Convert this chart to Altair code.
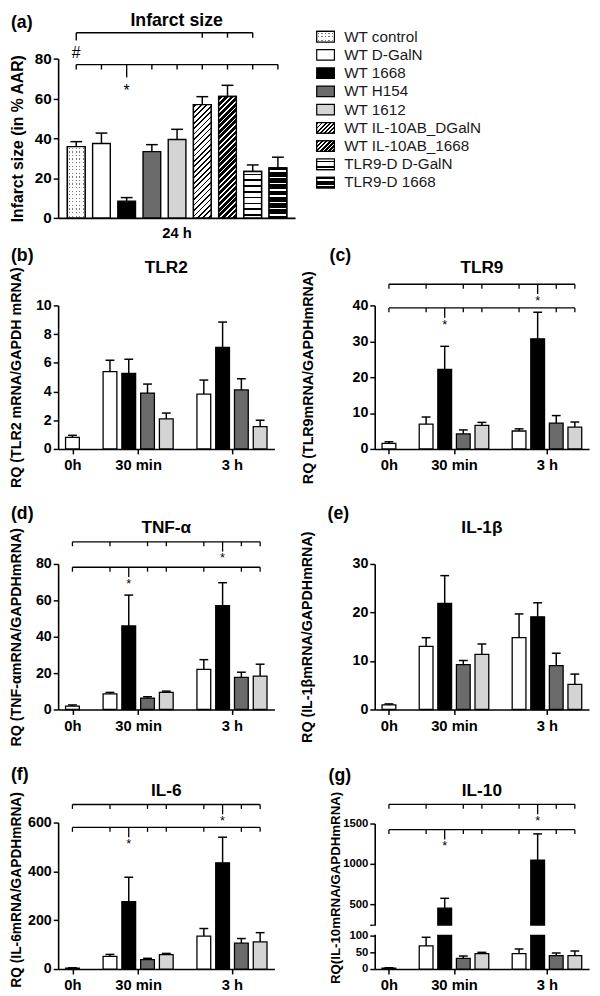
import math
import altair as alt
import pandas as pd

FONT = "Liberation Sans"

# ====================== DATA ======================
# (a) Infarct size at 24 h (mean and top of SEM bar, % AAR)
a_groups = ["WT control", "WT D-GalN", "WT 1668", "WT H154", "WT 1612",
            "WT IL-10AB_DGalN", "WT IL-10AB_1668", "TLR9-D D-GalN", "TLR9-D 1668"]
a_values = [35.8, 37.4, 8.4, 33.3, 39.4, 56.9, 61.0, 23.3, 25.1]
a_err_top = [38.3, 42.6, 10.2, 36.8, 44.5, 60.9, 66.6, 26.6, 30.5]
a_brackets = [
    {"level": 77, "members": a_groups, "mark": "WT 1668", "symbol": "*"},
    {"level": 93, "members": ["WT control", "WT IL-10AB_DGalN", "WT IL-10AB_1668", "TLR9-D D-GalN"],
     "mark": "WT control", "symbol": "#"},
]

# (b)-(g) relative mRNA expression; bars in drawing order
times = ["0h", "30 min", "3 h"]
treatments = ["D-GalN", "1668", "H154", "1612"]
bar_time = ["0h", "30 min", "30 min", "30 min", "30 min", "3 h", "3 h", "3 h", "3 h"]
bar_treat = ["D-GalN", "D-GalN", "1668", "H154", "1612", "D-GalN", "1668", "H154", "1612"]

tlr2_mean = [0.80, 5.39, 5.27, 3.89, 2.09, 3.82, 7.07, 4.11, 1.55]
tlr2_err = [0.95, 6.18, 6.25, 4.52, 2.50, 4.80, 8.84, 4.89, 2.00]
tlr9_mean = [1.55, 6.9, 22.2, 4.2, 6.6, 5.0, 30.7, 7.2, 6.1]
tlr9_err = [2.0, 8.9, 28.6, 5.3, 7.4, 5.6, 38.1, 9.3, 7.5]
tnf_mean = [1.8, 8.6, 45.9, 6.3, 9.4, 22.0, 57.1, 17.7, 18.4]
tnf_err = [2.5, 9.4, 62.9, 7.0, 10.1, 27.4, 69.7, 20.5, 24.9]
il1b_mean = [0.95, 13.0, 21.9, 9.26, 11.35, 14.8, 19.1, 9.05, 5.2]
il1b_err = [1.15, 14.8, 27.6, 10.1, 13.5, 19.7, 22.0, 11.6, 7.3]
il6_mean = [4, 52, 276, 39, 59, 135, 435, 106, 111]
il6_err = [5, 60, 376, 44, 64, 166, 540, 125, 149]
il10_mean = [3, 69, 455, 32, 46, 46, 1049, 40, 40]
il10_err = [4, 95, 577, 39, 50, 60, 1372, 48, 54]

tlr2_ticks = [0, 2, 4, 6, 8, 10]
tlr9_ticks = [0, 10, 20, 30, 40]
tnf_ticks = [0, 20, 40, 60, 80]
il1b_ticks = [0, 10, 20, 30]
il6_ticks = [0, 200, 400, 600]
il10_ticks = [0, 50, 100, 250, 500, 1000, 1500]
il10_break = [100, 250]

# significance brackets: (level, time point of the highlighted 1668 bar)
tlr9_brackets = [(45.9, "3 h"), (39.3, "30 min")]
tnf_brackets = [(92.2, "3 h"), (78.2, "30 min")]
il6_brackets = [(674, "3 h"), (580, "30 min")]
il10_brackets = [(1737, "3 h"), (1424, "30 min")]

# ====================== STYLE ======================
TREAT_COLORS = ["#ffffff", "#000000", "#6b6b6b", "#d4d4d4"]
A_BASE = ["#ffffff", "#ffffff", "#000000", "#6b6b6b", "#d4d4d4",
          "#ffffff", "#000000", "#ffffff", "#000000"]
GROUP_START = {"0h": 0, "30 min": 2, "3 h": 7}
LEFT_W, RIGHT_W = 220, 218
A_W, A_H = 241, 162
YTITLE_FS = 14.5
PANEL_TITLE_FS = 17.5


def stops_centered(n, frac, line, bg):
    out = []
    for i in range(n):
        a = i / n
        b = (i + (1 - frac) / 2) / n
        c = (i + (1 + frac) / 2) / n
        d = (i + 1) / n
        for off, col in ((a, bg), (b, bg), (b, line), (c, line), (c, bg), (d, bg)):
            out.append({"offset": round(off, 5), "color": col})
    return out


def grad_h(h, period, frac, line, bg):
    n = max(1, round(h / period))
    return {"gradient": "linear", "x1": 0, "y1": 0, "x2": 0, "y2": 1,
            "stops": stops_centered(n, frac, line, bg)}


def grad_v(w, period, frac, line, bg):
    n = max(1, round(w / period))
    return {"gradient": "linear", "x1": 0, "y1": 0, "x2": 1, "y2": 0,
            "stops": stops_centered(n, frac, line, bg)}


def grad_d(w, h, period, frac, line, bg):
    k = (w + h) / (w * w + h * h)
    n = max(1, round((w + h) / math.sqrt(2) / period))
    return {"gradient": "linear", "x1": 0, "y1": 0, "x2": round(k * w, 5), "y2": round(k * h, 5),
            "stops": stops_centered(n, frac, line, bg)}


def pattern_fills(group, w, h, legend=False):
    dot = 3.3 if legend else 3.6
    diag = 3.0 if legend else 4.0
    hl = 5.0 if legend else 6.0
    if group == "WT control":
        return [(grad_h(h, dot, 0.35, "#7a7a7a", "#ffffff"), False),
                (grad_v(w, dot, 0.35, "rgba(255,255,255,0)", "#ffffff"), True)]
    if group == "WT IL-10AB_DGalN":
        return [(grad_d(w, h, diag, 0.32, "#000000", "#ffffff"), True)]
    if group == "WT IL-10AB_1668":
        return [(grad_d(w, h, diag, 0.68, "#000000", "#ffffff"), True)]
    if group == "TLR9-D D-GalN":
        return [(grad_h(h, hl, 0.25, "#000000", "#ffffff"), True)]
    if group == "TLR9-D 1668":
        return [(grad_h(h, hl, 0.25, "#ffffff", "#000000"), True)]
    return []


def text_layer(txt, x, y, size, weight="bold", align="center"):
    return alt.Chart(pd.DataFrame({"t": [txt]})).mark_text(
        font=FONT, fontSize=size, fontWeight=weight, align=align, baseline="middle", color="black"
    ).encode(text="t:N", x=alt.value(x), y=alt.value(y))


# ====================== PANEL (a) ======================
def panel_a():
    df = pd.DataFrame({"group": a_groups, "idx": list(range(len(a_groups))),
                       "mean": a_values, "err": a_err_top, "base": 0.0})
    xs = alt.Scale(domain=[-0.523, 8.486], nice=False, zero=False)
    ys = alt.Scale(domain=[0, 80], nice=False, zero=False)
    xaxis = alt.Axis(title="24 h", labels=False, ticks=False, titleFontSize=15, titlePadding=8)
    yaxis = alt.Axis(values=[0, 20, 40, 60, 80], title="Infarct size (in % AAR)", titleFontSize=16,
                     titleX=-33, labelFontSize=15.5, labelOverlap=False, format="d")
    X = lambda f: alt.X(f, type="quantitative", scale=xs, axis=xaxis)
    Y = lambda f: alt.Y(f, type="quantitative", scale=ys, axis=yaxis)
    layers = [alt.Chart(df).mark_bar(width=18, stroke="black", strokeWidth=1.4).encode(
        x=X("idx"), y=Y("mean"), y2="base",
        fill=alt.Fill("group:N", scale=alt.Scale(domain=a_groups, range=A_BASE), legend=None))]
    for g, v in zip(a_groups, a_values):
        for fill, stroked in pattern_fills(g, 18, v / 80 * A_H):
            kw = {"width": 18, "fill": fill}
            if stroked:
                kw.update(stroke="black", strokeWidth=1.4)
            layers.append(alt.Chart(df).transform_filter(alt.datum.group == g).mark_bar(**kw).encode(
                x=X("idx"), y=Y("mean"), y2="base"))
    layers.append(alt.Chart(df).mark_rule(color="black", strokeWidth=1.5).encode(x=X("idx"), y=Y("mean"), y2="err"))
    layers.append(alt.Chart(df).mark_tick(orient="horizontal", size=12, thickness=1.5, color="black", opacity=1)
                  .encode(x=X("idx"), y=Y("err")))
    long_len = {"*": 13, "#": 8}
    sym_dy = {"*": 27, "#": 21}
    for br in a_brackets:
        idxs = [a_groups.index(m) for m in br["members"]]
        hi = a_groups.index(br["mark"])
        lvl = br["level"]
        layers.append(alt.Chart(pd.DataFrame({"x0": [min(idxs)], "x1": [max(idxs)], "level": [lvl]}))
                      .mark_rule(color="black", strokeWidth=1.4).encode(x=X("x0"), x2="x1", y=Y("level")))
        short = [i for i in idxs if i != hi]
        layers.append(alt.Chart(pd.DataFrame({"idx": short, "level": [lvl] * len(short)}))
                      .mark_tick(orient="vertical", size=5, thickness=1.4, yOffset=2.5, color="black", opacity=1)
                      .encode(x=X("idx"), y=Y("level")))
        L = long_len[br["symbol"]]
        layers.append(alt.Chart(pd.DataFrame({"idx": [hi], "level": [lvl]}))
                      .mark_tick(orient="vertical", size=L, thickness=1.4, yOffset=L / 2, color="black", opacity=1)
                      .encode(x=X("idx"), y=Y("level")))
        layers.append(alt.Chart(pd.DataFrame({"idx": [hi], "level": [lvl], "s": [br["symbol"]]}))
                      .mark_text(font=FONT, fontSize=16, baseline="middle", dy=sym_dy[br["symbol"]], color="black")
                      .encode(x=X("idx"), y=Y("level"), text="s:N"))
    layers.append(text_layer("(a)", -48, -36, 18, align="left"))
    layers.append(text_layer("Infarct size", A_W / 2, -38, 18))
    return alt.layer(*layers).properties(width=A_W, height=A_H)


# ====================== LEGEND ======================
def legend_panel():
    df = pd.DataFrame({"label": a_groups})
    sc = alt.Scale(domain=a_groups, range=[-31.6, 135.3], paddingInner=0.42, paddingOuter=0.21)
    LY = alt.Y("label:N", scale=sc, axis=None)
    layers = [alt.Chart(df).mark_rect(stroke="black", strokeWidth=1.2).encode(
        y=LY, x=alt.value(-59), x2=alt.value(-41),
        fill=alt.Fill("label:N", scale=alt.Scale(domain=a_groups, range=A_BASE), legend=None))]
    for g in a_groups:
        for fill, stroked in pattern_fills(g, 18, 10.75, legend=True):
            kw = {"fill": fill}
            if stroked:
                kw.update(stroke="black", strokeWidth=1.2)
            layers.append(alt.Chart(df).transform_filter(alt.datum.label == g).mark_rect(**kw).encode(
                y=LY, x=alt.value(-59), x2=alt.value(-41)))
    layers.append(alt.Chart(df).mark_text(font=FONT, fontSize=15.5, align="left", baseline="middle", color="#1a1a1a")
                  .encode(y=LY, x=alt.value(-31), text="label:N"))
    return alt.layer(*layers).properties(width=RIGHT_W, height=A_H)


# ====================== mRNA PANELS ======================
def mrna_panel(letter, name, ytitle, mean, err, ydomain, yticks, brackets, width, plot_h, extra,
               letter_xy, title_y, ytitle_x, ylabel_size=14.5, yrange=None, ybreak=None,
               ytitle_size=YTITLE_FS, ytitle_y=None):
    slots = [GROUP_START[t] + treatments.index(s) for t, s in zip(bar_time, bar_treat)]
    df = pd.DataFrame({"slot": slots, "time": bar_time, "treat": bar_treat,
                       "mean": mean, "err": err, "base": 0.0})
    centers = [sum(s for s, t in zip(slots, bar_time) if t == tm) / bar_time.count(tm) for tm in times]
    label_expr = " : ".join(f"datum.value == {c} ? '{tm}'" for c, tm in zip(centers[:-1], times[:-1]))
    label_expr += f" : '{times[-1]}'"
    xs = alt.Scale(domain=[-0.5, 10.5], nice=False, zero=False)
    xaxis = alt.Axis(values=centers, labelExpr=label_expr, title=None, offset=-extra, labelFontSize=15,
                     labelPadding=4, labelFlush=False, labelOverlap=False)
    ys = alt.Scale(domain=ydomain, range=yrange if yrange else [plot_h, 0], nice=False, zero=False)
    yax = dict(values=yticks, title=ytitle, titleX=ytitle_x, titleFontSize=ytitle_size,
               labelFontSize=ylabel_size, labelOverlap=False, format="d")
    if ytitle_y is not None:
        yax["titleY"] = ytitle_y
    if ybreak:
        yax["labelExpr"] = f"datum.value == {ybreak[1]} ? '' : datum.label"
    yaxis = alt.Axis(**yax)
    X = lambda f: alt.X(f, type="quantitative", scale=xs, axis=xaxis)
    Y = lambda f: alt.Y(f, type="quantitative", scale=ys, axis=yaxis)
    base = alt.Chart(df)
    layers = [
        base.mark_bar(width=14, stroke="black", strokeWidth=1.3).encode(
            x=X("slot"), y=Y("mean"), y2="base",
            fill=alt.Fill("treat:N", scale=alt.Scale(domain=treatments, range=TREAT_COLORS), legend=None)),
    ]
    if ybreak:
        layers.append(alt.Chart(pd.DataFrame({"lo": [ybreak[0]], "hi": [ybreak[1]]}))
                      .mark_rect(color="white", yOffset=-1, y2Offset=1)
                      .encode(y=Y("lo"), y2="hi", x=alt.value(-3), x2=alt.value(width + 3)))
    layers += [
        base.mark_rule(color="black", strokeWidth=1.5).encode(x=X("slot"), y=Y("mean"), y2="err"),
        base.mark_tick(orient="horizontal", size=9, thickness=1.5, color="black", opacity=1).encode(
            x=X("slot"), y=Y("err")),
    ]
    hi_slot = {t: s for s, t, tr in zip(slots, bar_time, bar_treat) if tr == "1668"}
    lines, short, long_, syms = [], [], [], []
    for level, t_hi in brackets:
        members = [s for s, t, tr in zip(slots, bar_time, bar_treat) if not (tr == "1668" and t != t_hi)]
        lines.append({"x0": min(members), "x1": max(members), "level": level})
        for s in members:
            (long_ if s == hi_slot[t_hi] else short).append({"slot": s, "level": level})
        syms.append({"slot": hi_slot[t_hi], "level": level, "sym": "*"})
    if lines:
        layers += [
            alt.Chart(pd.DataFrame(lines)).mark_rule(color="black", strokeWidth=1.3).encode(
                x=X("x0"), x2="x1", y=Y("level")),
            alt.Chart(pd.DataFrame(short)).mark_tick(orient="vertical", size=4.5, thickness=1.3, yOffset=2.25,
                                                     color="black", opacity=1).encode(x=X("slot"), y=Y("level")),
            alt.Chart(pd.DataFrame(long_)).mark_tick(orient="vertical", size=10, thickness=1.3, yOffset=5,
                                                     color="black", opacity=1).encode(x=X("slot"), y=Y("level")),
            alt.Chart(pd.DataFrame(syms)).mark_text(font=FONT, fontSize=13, baseline="middle", dy=17,
                                                    color="black").encode(x=X("slot"), y=Y("level"), text="sym:N"),
        ]
    layers.append(text_layer(letter, letter_xy[0], letter_xy[1], 18, align="left"))
    layers.append(text_layer(name, width / 2, title_y, PANEL_TITLE_FS))
    return alt.layer(*layers).properties(width=width, height=plot_h + extra)


pa = panel_a()
leg = legend_panel()
pb = mrna_panel("(b)", "TLR2", "RQ (TLR2 mRNA/GAPDH mRNA)", tlr2_mean, tlr2_err, [0, 10], tlr2_ticks, [],
                LEFT_W, 146, 28, (-48, -50.5), -37.5, -35)
pc = mrna_panel("(c)", "TLR9", "RQ (TLR9mRNA/GAPDHmRNA)", tlr9_mean, tlr9_err, [0, 40], tlr9_ticks, tlr9_brackets,
                RIGHT_W, 146, 28, (-46, -50.5), -37.5, -60)
pd_ = mrna_panel("(d)", "TNF-α", "RQ (TNF-αmRNA/GAPDHmRNA)", tnf_mean, tnf_err, [0, 80], tnf_ticks, tnf_brackets,
                 LEFT_W, 148, 26, (-48, -51), -37, -35)
pe = mrna_panel("(e)", "IL-1β", "RQ (IL-1βmRNA/GAPDHmRNA)", il1b_mean, il1b_err, [0, 30], il1b_ticks, [],
                RIGHT_W, 148, 26, (-48, -51), -37, -61.5)
pf = mrna_panel("(f)", "IL-6", "RQ (IL-6mRNA/GAPDHmRNA)", il6_mean, il6_err, [0, 600], il6_ticks, il6_brackets,
                LEFT_W, 149, 0, (-48, -48), -32, -35, ytitle_size=14, ytitle_y=68)
pg = mrna_panel("(g)", "IL-10", "RQ(IL-10mRNA/GAPDHmRNA)", il10_mean, il10_err,
                [0, il10_break[0], il10_break[1], 1500], il10_ticks, il10_brackets,
                RIGHT_W, 149, 0, (-47, -47.5), -32, -32.5, ylabel_size=11.5,
                yrange=[149, 115, 104, 1], ybreak=il10_break, ytitle_size=13.5, ytitle_y=66)

chart = alt.concat(pa, leg, pb, pc, pd_, pe, pf, pg, columns=2,
                   spacing={"row": 89, "column": 81}, bounds="flush")
chart = chart.resolve_scale(fill="independent").configure_view(stroke=None).configure_axis(
    domainColor="black", domainWidth=1.6, tickColor="black", tickWidth=1.5, tickSize=5,
    labelColor="black", titleColor="black", labelFont=FONT, titleFont=FONT,
    labelFontWeight="bold", titleFontWeight="bold", labelFontSize=14, titleFontSize=13, grid=False
).properties(padding={"top": -4, "left": 0, "right": 0, "bottom": 0})

chart.save("out.html", embed_options={"renderer": "svg", "actions": False})
